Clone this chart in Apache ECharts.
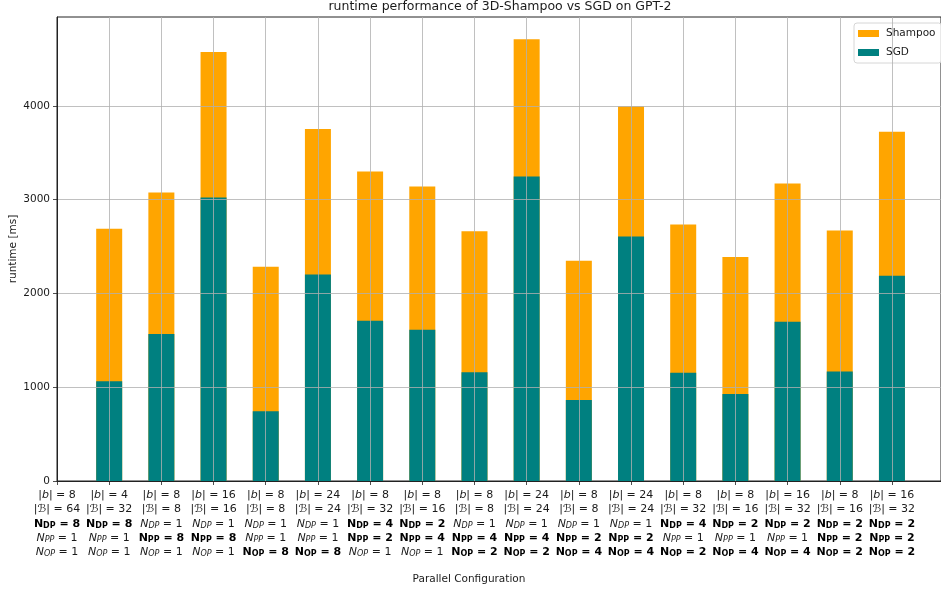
<!DOCTYPE html>
<html>
<head>
<meta charset="utf-8">
<script src="https://cdn.jsdelivr.net/npm/echarts@6/dist/echarts.min.js"></script>
<style>
  html, body { margin: 0; padding: 0; background: #fff; }
  #chart { width: 941px; height: 591px; }
</style>
</head>
<body>
<div id="chart"></div>
<script>
// Per-configuration settings (index 0 has no measurement)
const localBatch  = [8, 4, 8, 16, 8, 24, 8, 8, 8, 24, 8, 24, 8, 8, 16, 8, 16];
const globalBatch = [64, 32, 8, 16, 8, 24, 32, 16, 8, 24, 8, 24, 32, 16, 32, 16, 32];
const nDP = [8, 8, 1, 1, 1, 1, 4, 2, 1, 1, 1, 1, 4, 2, 2, 2, 2];
const nPP = [1, 1, 8, 8, 1, 1, 2, 4, 4, 4, 2, 2, 1, 1, 1, 2, 2];
const nOP = [1, 1, 1, 1, 8, 8, 1, 1, 2, 2, 4, 4, 2, 4, 4, 2, 2];

// Runtime in ms
const shampooRuntime = [null, 2689, 3077, 4576, 2286, 3753, 3301, 3141, 2663, 4712, 2350, 3996, 2735, 2390, 3172, 2670, 3725];
const sgdRuntime     = [null, 1065, 1567, 3023, 745, 2201, 1709, 1613, 1161, 3248, 865, 2607, 1154, 929, 1699, 1168, 2190];

const yTicks = [0, 1000, 2000, 3000, 4000];
const xTicks = localBatch.map((_, i) => i);

const FONT = 'DejaVu Sans';
const TXT = '#1a1a1a';

// Parallelism degree row: bold when the dimension is actually used
function degreeRow(sub, v) {
  if (v > 1) return '{bN|N}{bs|' + sub + '}{b| = ' + v + '}';
  return '{iN|N}{is|' + sub + '}{n| = ' + v + '}';
}

function tickLabel(value) {
  const i = Math.round(value);
  if (Math.abs(value - i) > 1e-6 || i < 0 || i >= localBatch.length) return '';
  return [
    '{n||}{iN|b}{n|| = ' + localBatch[i] + '}',
    '{n||}{iN|ℬ}{n|| = ' + globalBatch[i] + '}',
    degreeRow('DP', nDP[i]),
    degreeRow('PP', nPP[i]),
    degreeRow('OP', nOP[i])
  ].join('\n');
}

const LH = 14.3;
const FS = 11;
const SFS = 8;
const rich = {
  n:  { fontFamily: FONT, fontSize: FS, color: TXT, lineHeight: LH },
  iN: { fontFamily: FONT, fontSize: FS, fontStyle: 'italic', color: TXT, lineHeight: LH },
  is: { fontFamily: FONT, fontSize: SFS, fontStyle: 'italic', color: TXT, lineHeight: LH, padding: [4, 0, 0, 0] },
  b:  { fontFamily: FONT, fontSize: FS, fontWeight: 'bold', color: '#000', lineHeight: LH },
  bN: { fontFamily: FONT, fontSize: FS, fontWeight: 'bold', color: '#000', lineHeight: LH },
  bs: { fontFamily: FONT, fontSize: SFS, fontWeight: 'bold', color: '#000', lineHeight: LH, padding: [4, 0, 0, 0] }
};

const chart = echarts.init(document.getElementById('chart'), null, { renderer: 'canvas' });

const gridLine = { show: true, lineStyle: { color: '#b0b0b0', width: 0.8 } };

chart.setOption({
  animation: false,
  backgroundColor: '#fff',
  textStyle: { fontFamily: FONT },
  grid: {
    left: 57, right: 0, top: 17, bottom: 110,
    containLabel: false,
    outerBoundsMode: 'none',
    show: true, borderColor: '#222', borderWidth: 1, backgroundColor: 'transparent'
  },
  legend: {
    orient: 'vertical',
    left: 854, top: 23,
    icon: 'rect',
    itemWidth: 21, itemHeight: 7, itemGap: 8,
    padding: [5, 6, 5, 4],
    backgroundColor: 'rgba(255,255,255,0.8)',
    borderColor: '#d6d6d6', borderWidth: 1, borderRadius: 3,
    textStyle: { fontFamily: FONT, fontSize: 10.5, color: TXT, padding: [0, 0, 0, 2] },
    data: ['Shampoo', 'SGD']
  },
  xAxis: {
    type: 'value',
    min: 0, max: 16.94,
    interval: 1,
    z: 5,
    axisLine: { show: true, lineStyle: { color: '#222', width: 1 } },
    axisTick: { show: true, length: 4, lineStyle: { color: '#222', width: 0.8 }, customValues: xTicks },
    splitLine: gridLine,
    axisLabel: {
      customValues: xTicks,
      margin: 7,
      formatter: tickLabel,
      rich: rich,
      color: TXT,
      verticalAlign: 'top',
      hideOverlap: false
    }
  },
  yAxis: {
    type: 'value',
    min: 0, max: 4948,
    interval: 1000,
    z: 5,
    axisLine: { show: true, lineStyle: { color: '#222', width: 1 } },
    axisTick: { show: true, length: 4, lineStyle: { color: '#222', width: 0.8 }, customValues: yTicks },
    splitLine: gridLine,
    axisLabel: {
      customValues: yTicks,
      margin: 7,
      formatter: (v) => String(v),
      fontFamily: FONT, fontSize: 10.5, color: TXT
    }
  },
  series: [
    {
      name: 'Shampoo',
      type: 'bar',
      barWidth: 26,
      barGap: '-100%',
      itemStyle: { color: '#FFA500' },
      data: shampooRuntime.map((v, i) => [i, v])
    },
    {
      name: 'SGD',
      type: 'bar',
      barWidth: 26,
      barGap: '-100%',
      itemStyle: { color: '#008080' },
      data: sgdRuntime.map((v, i) => [i, v])
    }
  ],
  graphic: [
    {
      type: 'text',
      style: {
        x: 500, y: 7,
        text: 'runtime performance of 3D-Shampoo vs SGD on GPT-2',
        fontFamily: FONT, fontSize: 12.5, fill: TXT,
        align: 'center', verticalAlign: 'middle'
      }
    },
    {
      type: 'text',
      x: 13, y: 249,
      rotation: Math.PI / 2,
      style: {
        x: 0, y: 0,
        text: 'runtime [ms]',
        fontFamily: FONT, fontSize: 10.5, fill: TXT,
        align: 'center', verticalAlign: 'middle'
      }
    },
    {
      type: 'text',
      style: {
        x: 469, y: 579,
        text: 'Parallel Configuration',
        fontFamily: FONT, fontSize: 10.5, fill: TXT,
        align: 'center', verticalAlign: 'middle'
      }
    }
  ]
});
</script>
</body>
</html>
